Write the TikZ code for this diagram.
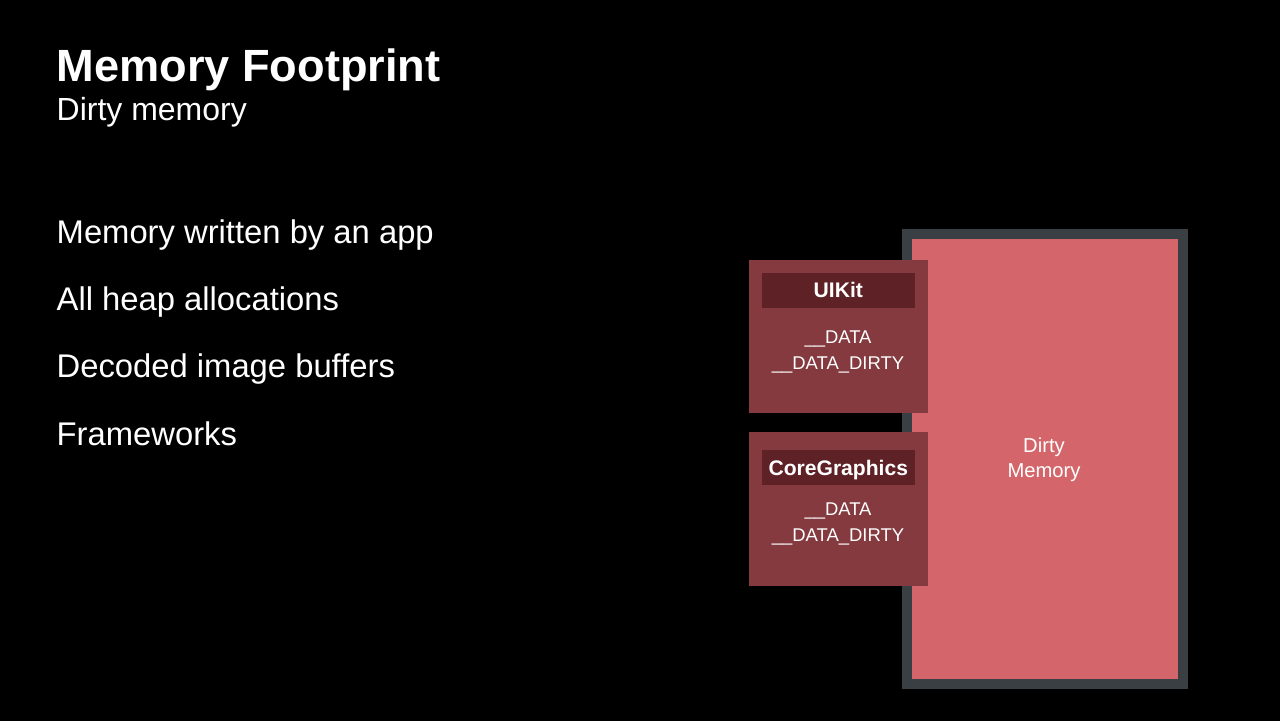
\documentclass[tikz,border=0pt]{standalone}
\usepackage{fontspec}
\setmainfont{Liberation Sans}
\usetikzlibrary{positioning, backgrounds}

\definecolor{dirtyred}{HTML}{D4666B}
\definecolor{framegray}{HTML}{3A3F43}
\definecolor{libred}{HTML}{843A3F}
\definecolor{bardark}{HTML}{5E2125}

\begin{document}
\begin{tikzpicture}[x=0.2mm, y=-0.2mm, thick]

		\tikzstyle{heading}=[anchor=base west, inner sep=0pt, text=white, font=\fontsize{25.7}{30}\selectfont\bfseries]
		\tikzstyle{subheading}=[anchor=base west, inner sep=0pt, text=white, font=\fontsize{18.2}{22}\selectfont]
		\tikzstyle{bullet}=[anchor=base west, inner sep=0pt, text=white, font=\fontsize{18.65}{22}\selectfont]
		\tikzstyle{dirty}=[rectangle, fill=dirtyred, draw=framegray, line width=2mm, minimum width=5.532cm, minimum height=9.008cm]
		\tikzstyle{dirtytext}=[text=white, align=center, inner sep=0pt, font=\fontsize{11.5}{14.2}\selectfont]
		\tikzstyle{lib}=[rectangle, fill=libred, minimum width=3.568cm, minimum height=3.07cm, inner sep=0pt]
		\tikzstyle{libname}=[rectangle, fill=bardark, minimum width=3.054cm, minimum height=0.7cm, inner sep=0pt, text height=8.6pt, text depth=0pt, text=white, font=\fontsize{12}{14}\selectfont\bfseries]
		\tikzstyle{segs}=[align=center, text=white, inner sep=0pt, font=\fontsize{10.5}{14.7}\selectfont]

		% black slide
		\fill[black] (0,0) rectangle (1280,721);

		% title
		\node[heading] (title) at (56,81) {Memory Footprint};
		\node[subheading] (sub) at (56,120) {Dirty memory};

		% bullet list
		\node[bullet] (b1) at (56,243.3) {Memory written by an app};
		\node[bullet] (b2) at (56,310.6) {All heap allocations};
		\node[bullet] (b3) at (56,377.8) {Decoded image buffers};
		\node[bullet] (b4) at (56,445) {Frameworks};

		% dirty memory block
		\node[dirty] (mem) at (1045,459) {};
		\node[dirtytext] (memtext) at (1044,459.5) {Dirty\\Memory};

		% frameworks
		\node[lib] (uikit) at (838.5,336.7) {};
		\node[libname] (uikitname) at (838.3,290.2) {UIKit};
		\node[segs] (uikitdata) at (838,352) {\_\_DATA\\\_\_DATA\_DIRTY};

		\node[lib] (cg) at (838.3,508.8) {};
		\node[libname] (cgname) at (838.3,467.5) {CoreGraphics};
		\node[segs] (cgdata) at (838,524) {\_\_DATA\\\_\_DATA\_DIRTY};

\end{tikzpicture}
\end{document}
